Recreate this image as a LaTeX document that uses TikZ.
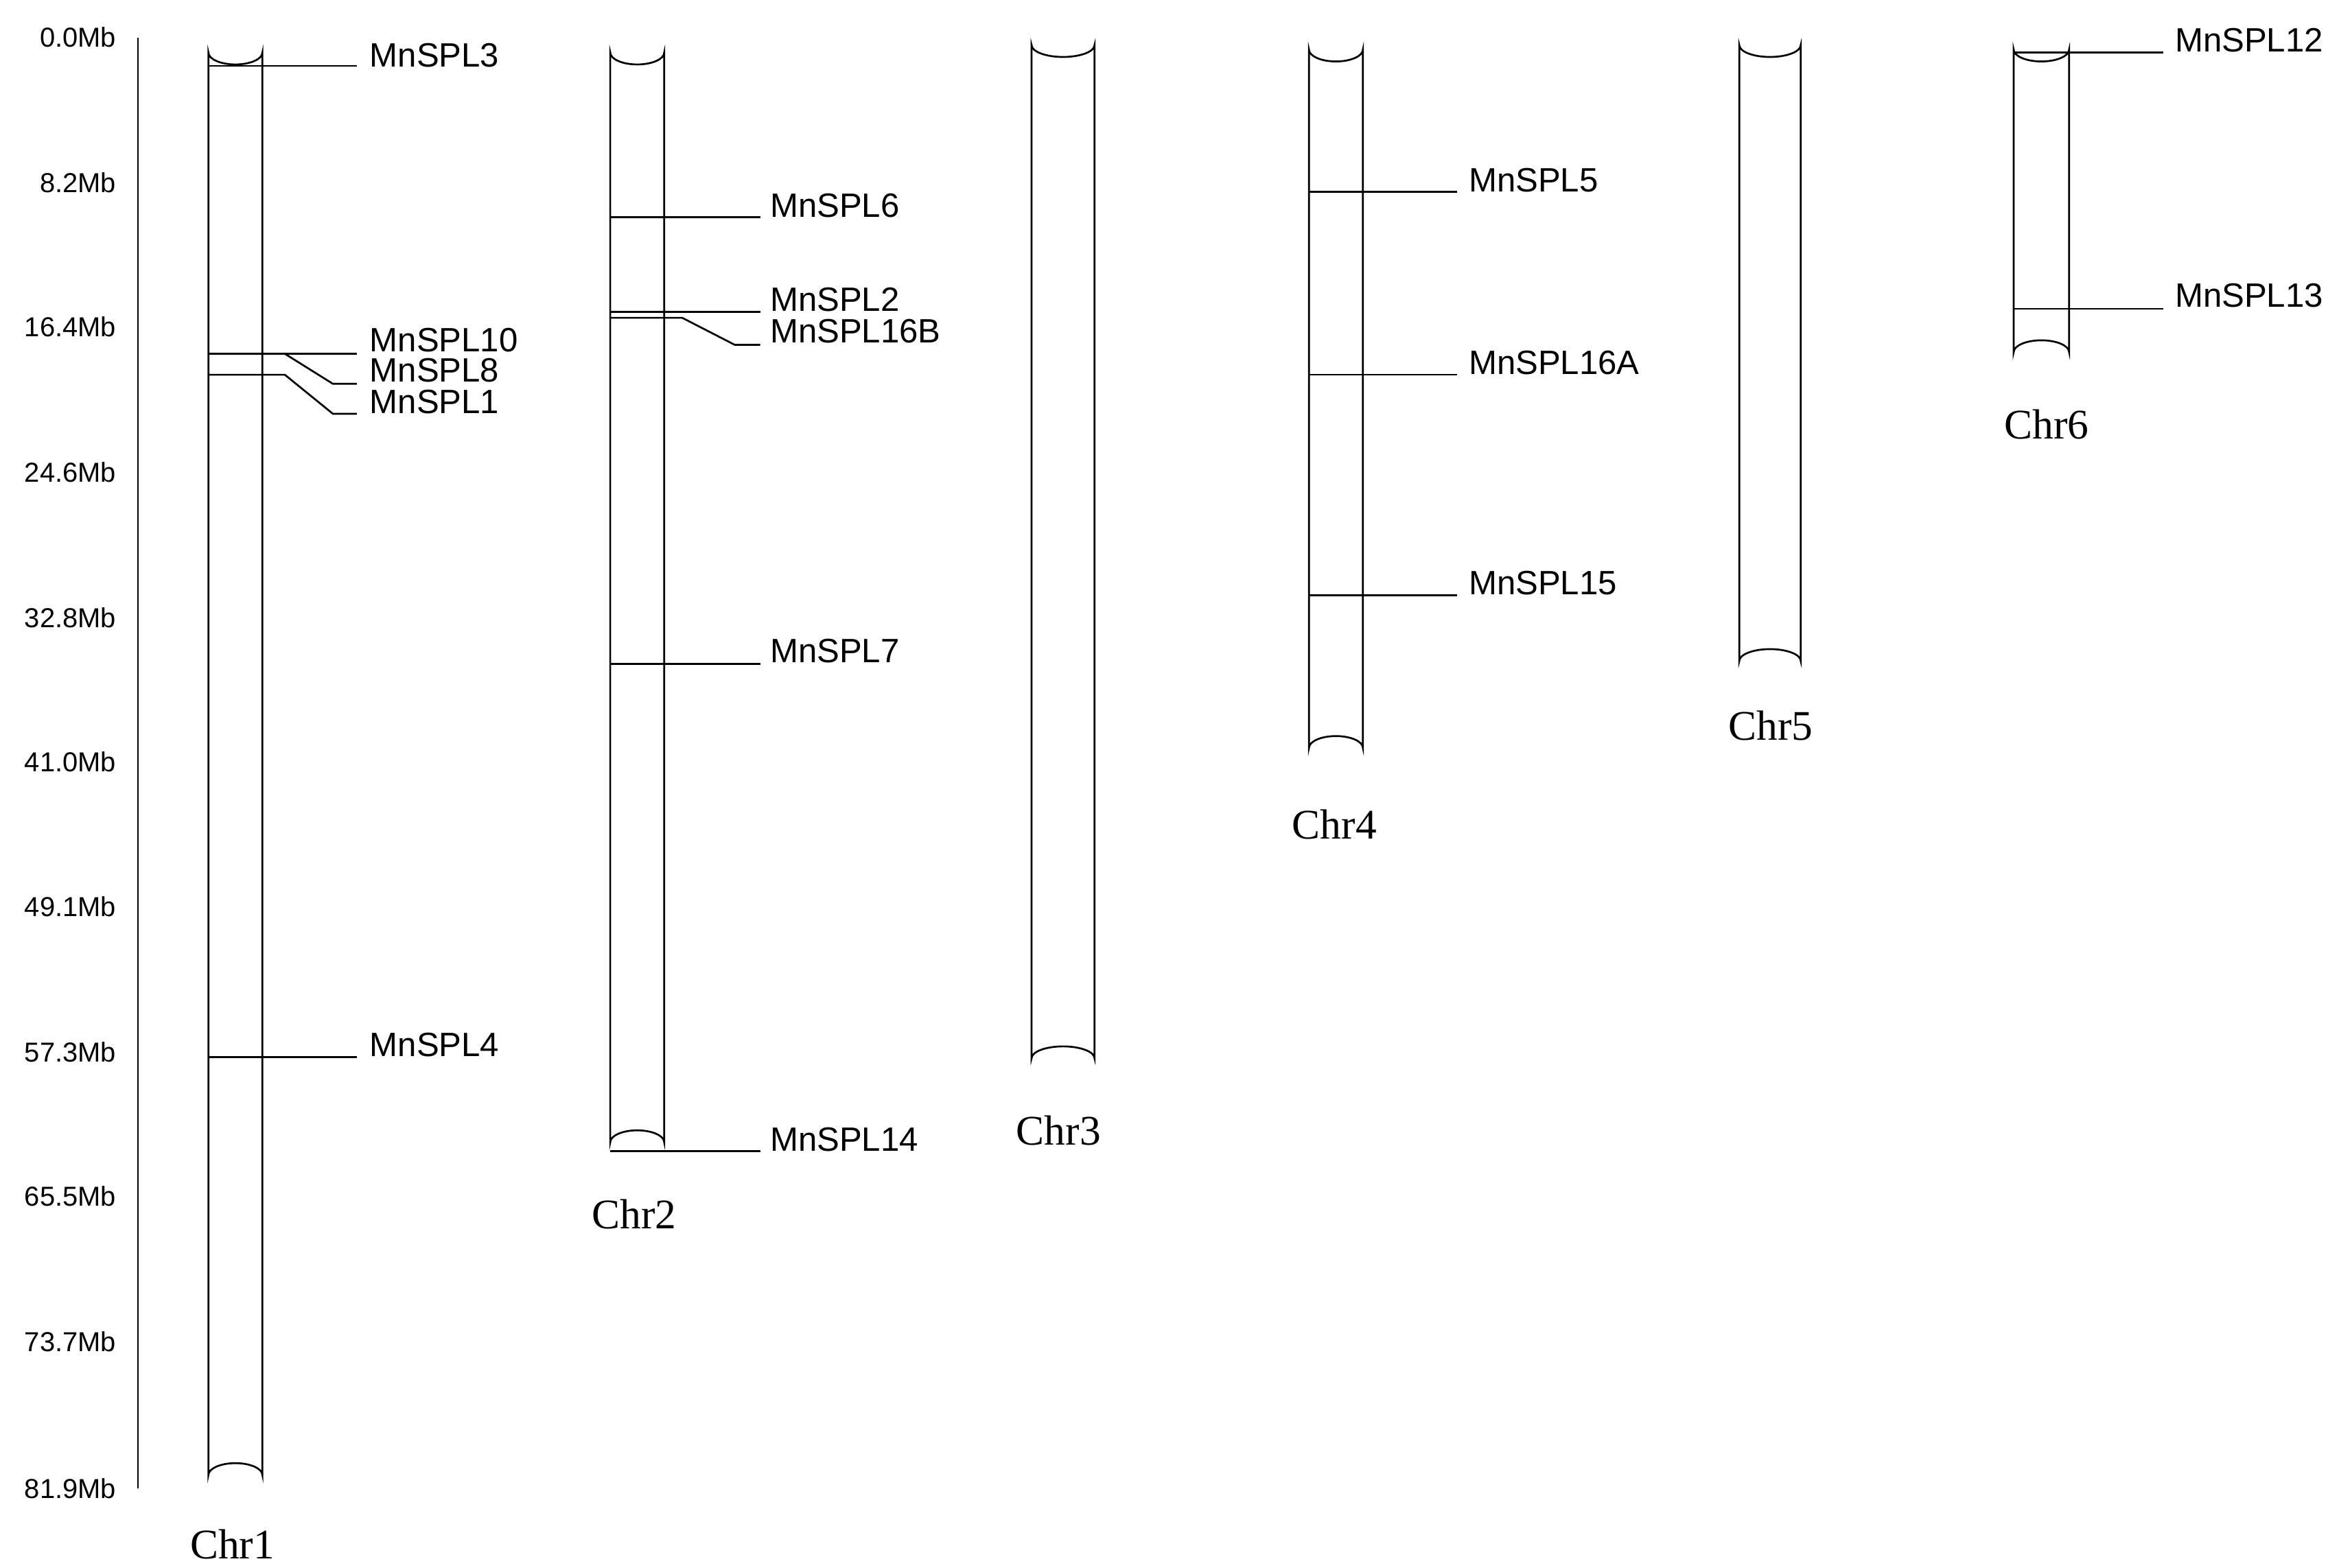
\documentclass[tikz,border=0pt]{standalone}
\usepackage{fontspec}
\setmainfont{Liberation Serif}
\newfontfamily\lab{Liberation Sans}
\begin{document}
\begin{tikzpicture}[x=0.01cm,y=-0.01cm,line width=0.35pt,
  gene/.style={font=\lab\fontsize{6.4}{7}\selectfont,anchor=west,inner sep=0},
  scl/.style={font=\lab\fontsize{5.2}{6}\selectfont,anchor=east,inner sep=0},
  chrl/.style={font=\fontsize{8}{9}\selectfont,inner sep=0}]
\useasboundingbox (0,0) rectangle (1560,1045.5);
\newcommand\chrom[5]{% name,x1,x2,top,bottom
  \pgfmathsetmacro\rx{(#3-#2)/2}
  \draw (#2,#4+8) arc[start angle=180,end angle=0,x radius=\rx,y radius=8] -- (#3,#5-8)
        arc[start angle=0,end angle=-180,x radius=\rx,y radius=8] -- cycle;
  \coordinate (#1) at (#2,#4);}
% scale
\draw (92,25) -- (92,993);
\foreach \v/\y in {0.0/25,8.2/122,16.4/218,24.6/315,32.8/412,41.0/508,49.1/605,57.3/702,65.5/798,73.7/895,81.9/993}
  \node[scl] at (78,\y) {\v Mb};
\chrom{c1}{139}{175}{27}{992}
\chrom{c2}{407}{443}{27}{770}
\chrom{c3}{688}{730}{22}{714}
\chrom{c4}{873}{909}{25}{507}
\chrom{c5}{1160}{1201}{22}{449}
\chrom{c6}{1343}{1380}{25}{243}
\node[chrl] (l1) at (155,1030) {Chr1};
\node[chrl] (l2) at (423,810) {Chr2};
\node[chrl] (l3) at (706,754) {Chr3};
\node[chrl] (l4) at (890,550) {Chr4};
\node[chrl] (l5) at (1181,484) {Chr5};
\node[chrl] (l6) at (1365,283) {Chr6};
% Chr1
\draw (139,44) -- (238,44); \node[gene] (g3) at (246,37) {MnSPL3};
\draw (139,236) -- (238,236); \node[gene] (g10) at (246,227) {MnSPL10};
\draw (175,236) -- (190,236) -- (222,256) -- (238,256); \node[gene] (g8) at (246,247) {MnSPL8};
\draw (139,250) -- (190,250) -- (222,276) -- (238,276); \node[gene] (g1) at (246,268) {MnSPL1};
\draw (139,705) -- (238,705); \node[gene] (g4) at (246,697) {MnSPL4};
% Chr2
\draw (407,145) -- (507,145); \node[gene] (g6) at (513,137) {MnSPL6};
\draw (407,208) -- (507,208); \node[gene] (g2) at (513,200) {MnSPL2};
\draw (407,212) -- (455,212) -- (490,230) -- (507,230); \node[gene] (g16b) at (513,221) {MnSPL16B};
\draw (407,443) -- (507,443); \node[gene] (g7) at (513,434) {MnSPL7};
\draw (407,768) -- (507,768); \node[gene] (g14) at (513,760) {MnSPL14};
% Chr4
\draw (873,128) -- (972,128); \node[gene] (g5) at (979,120) {MnSPL5};
\draw (873,250) -- (972,250); \node[gene] (g16a) at (979,242) {MnSPL16A};
\draw (873,397) -- (972,397); \node[gene] (g15) at (979,389) {MnSPL15};
% Chr6
\draw (1343,35) -- (1443,35); \node[gene] (g12) at (1450,27) {MnSPL12};
\draw (1343,206) -- (1443,206); \node[gene] (g13) at (1450,197) {MnSPL13};
\end{tikzpicture}
\end{document}
